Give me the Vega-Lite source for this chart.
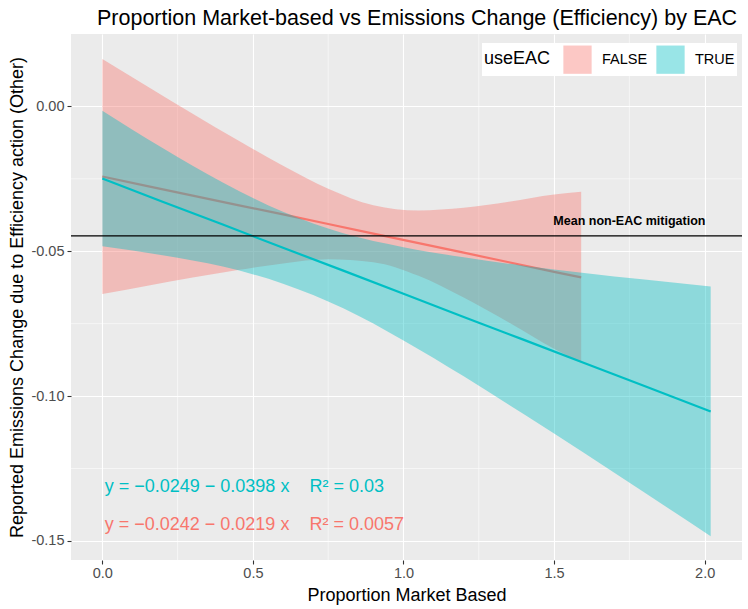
{
  "$schema": "https://vega.github.io/schema/vega-lite/v6.json",
  "width": 671,
  "height": 526,
  "autosize": "none",
  "padding": {"left": 71, "top": 34, "right": 6, "bottom": 49},
  "background": "white",
  "config": {
    "view": {"fill": "#EBEBEB", "stroke": null},
    "font": "Liberation Sans",
    "axis": {
      "domain": false,
      "grid": true,
      "gridColor": "white",
      "gridWidth": 1.1,
      "tickColor": "#333333",
      "tickSize": 4,
      "tickWidth": 1.1,
      "labelColor": "#4D4D4D",
      "labelFontSize": 14.5,
      "labelFont": "Liberation Sans",
      "titleFont": "Liberation Sans",
      "titleFontSize": 18,
      "titleFontWeight": "normal",
      "titleColor": "black"
    }
  },
  "title": {
    "text": "Proportion Market-based vs Emissions Change (Efficiency) by EAC",
    "anchor": "start",
    "frame": "group",
    "dx": 26,
    "fontSize": 21.5,
    "fontWeight": "normal",
    "color": "black",
    "font": "Liberation Sans",
    "offset": 4
  },
  "datasets": {
    "bands": [
      {"useEAC": "FALSE", "x": 0, "fit": -0.0242, "lo": -0.0648, "hi": 0.0164},
      {"useEAC": "FALSE", "x": 0.15, "fit": -0.0275, "lo": -0.0619, "hi": 0.0069},
      {"useEAC": "FALSE", "x": 0.3, "fit": -0.0308, "lo": -0.0591, "hi": -0.0025},
      {"useEAC": "FALSE", "x": 0.45, "fit": -0.0341, "lo": -0.0565, "hi": -0.0117},
      {"useEAC": "FALSE", "x": 0.6, "fit": -0.0373, "lo": -0.0542, "hi": -0.0205},
      {"useEAC": "FALSE", "x": 0.75, "fit": -0.0406, "lo": -0.0528, "hi": -0.0284},
      {"useEAC": "FALSE", "x": 0.9, "fit": -0.0439, "lo": -0.0538, "hi": -0.0341},
      {"useEAC": "FALSE", "x": 1.05, "fit": -0.0472, "lo": -0.0585, "hi": -0.0359},
      {"useEAC": "FALSE", "x": 1.2, "fit": -0.0505, "lo": -0.0660, "hi": -0.0350},
      {"useEAC": "FALSE", "x": 1.35, "fit": -0.0538, "lo": -0.0746, "hi": -0.0329},
      {"useEAC": "FALSE", "x": 1.5, "fit": -0.0571, "lo": -0.0837, "hi": -0.0304},
      {"useEAC": "FALSE", "x": 1.59, "fit": -0.0590, "lo": -0.0885, "hi": -0.0295},
      {"useEAC": "TRUE", "x": 0, "fit": -0.0249, "lo": -0.0483, "hi": -0.0015},
      {"useEAC": "TRUE", "x": 0.2, "fit": -0.0329, "lo": -0.0514, "hi": -0.0144},
      {"useEAC": "TRUE", "x": 0.4, "fit": -0.0408, "lo": -0.0553, "hi": -0.0263},
      {"useEAC": "TRUE", "x": 0.6, "fit": -0.0488, "lo": -0.0612, "hi": -0.0364},
      {"useEAC": "TRUE", "x": 0.8, "fit": -0.0567, "lo": -0.0697, "hi": -0.0438},
      {"useEAC": "TRUE", "x": 1.0, "fit": -0.0647, "lo": -0.0808, "hi": -0.0486},
      {"useEAC": "TRUE", "x": 1.2, "fit": -0.0727, "lo": -0.0932, "hi": -0.0521},
      {"useEAC": "TRUE", "x": 1.4, "fit": -0.0806, "lo": -0.1063, "hi": -0.0550},
      {"useEAC": "TRUE", "x": 1.6, "fit": -0.0886, "lo": -0.1197, "hi": -0.0575},
      {"useEAC": "TRUE", "x": 1.8, "fit": -0.0965, "lo": -0.1333, "hi": -0.0598},
      {"useEAC": "TRUE", "x": 2.02, "fit": -0.1053, "lo": -0.1484, "hi": -0.0622}
    ],
    "minorx": [{"v": 0.25}, {"v": 0.75}, {"v": 1.25}, {"v": 1.75}],
    "minory": [{"v": -0.025}, {"v": -0.075}, {"v": -0.125}],
    "annot": [{"label": "Mean non-EAC mitigation", "mean": -0.0447}]
  },
  "layer": [
    {
      "data": {"name": "minorx"},
      "mark": {"type": "rule", "color": "white", "strokeWidth": 0.55},
      "encoding": {
        "x": {"field": "v", "type": "quantitative", "scale": {"domain": [-0.104, 2.124], "nice": false, "zero": false},
          "axis": {"values": [0, 0.5, 1, 1.5, 2], "format": ".1f", "title": "Proportion Market Based", "titlePadding": 7, "labelPadding": 2}}
      }
    },
    {
      "data": {"name": "minory"},
      "mark": {"type": "rule", "color": "white", "strokeWidth": 0.55},
      "encoding": {
        "y": {"field": "v", "type": "quantitative", "scale": {"domain": [-0.1566, 0.025], "nice": false, "zero": false},
          "axis": {"values": [0, -0.05, -0.1, -0.15], "labelExpr": "replace(format(datum.value, '.2f'), '\u2212', '-')", "title": "Reported Emissions Change due to Efficiency action (Other)", "titlePadding": 4, "labelPadding": 3}}
      }
    },
    {
      "data": {"name": "bands"},
      "transform": [{"filter": "datum.useEAC == 'FALSE'"}],
      "mark": {"type": "area", "opacity": 0.4, "interpolate": "monotone"},
      "encoding": {
        "x": {"field": "x", "type": "quantitative"},
        "y": {"field": "lo", "type": "quantitative"},
        "y2": {"field": "hi"},
        "color": {"field": "useEAC", "type": "nominal", "scale": {"domain": ["FALSE", "TRUE"], "range": ["#F8766D", "#00BFC4"]},
          "legend": {
            "title": "useEAC", "orient": "none", "legendX": 411, "legendY": 9, "direction": "horizontal",
            "titleOrient": "left", "titleFontSize": 18, "titleFontWeight": "normal", "titleColor": "black", "titleFont": "Liberation Sans",
            "labelFontSize": 14.5, "labelColor": "black", "labelFont": "Liberation Sans",
            "symbolType": "square", "symbolSize": 800, "symbolOpacity": 0.4, "symbolStrokeWidth": 0,
            "fillColor": "white", "padding": 2, "labelOffset": 10, "columnPadding": 8, "titlePadding": 12
          }}
      }
    },
    {
      "data": {"name": "bands"},
      "transform": [{"filter": "datum.useEAC == 'FALSE'"}],
      "mark": {"type": "line", "strokeWidth": 2.2},
      "encoding": {
        "x": {"field": "x", "type": "quantitative"},
        "y": {"field": "fit", "type": "quantitative"},
        "color": {"field": "useEAC", "type": "nominal"}
      }
    },
    {
      "data": {"name": "bands"},
      "transform": [{"filter": "datum.useEAC == 'TRUE'"}],
      "mark": {"type": "area", "opacity": 0.4, "interpolate": "monotone"},
      "encoding": {
        "x": {"field": "x", "type": "quantitative"},
        "y": {"field": "lo", "type": "quantitative"},
        "y2": {"field": "hi"},
        "color": {"field": "useEAC", "type": "nominal"}
      }
    },
    {
      "data": {"name": "bands"},
      "transform": [{"filter": "datum.useEAC == 'TRUE'"}],
      "mark": {"type": "line", "strokeWidth": 2.2},
      "encoding": {
        "x": {"field": "x", "type": "quantitative"},
        "y": {"field": "fit", "type": "quantitative"},
        "color": {"field": "useEAC", "type": "nominal"}
      }
    },
    {
      "data": {"name": "annot"},
      "mark": {"type": "rule", "color": "black", "strokeWidth": 1.1},
      "encoding": {"y": {"field": "mean", "type": "quantitative"}}
    },
    {
      "data": {"name": "annot"},
      "mark": {"type": "text", "fontSize": 12.5, "fontWeight": "bold", "color": "black", "align": "center", "baseline": "middle", "font": "Liberation Sans"},
      "encoding": {"text": {"field": "label"}, "x": {"datum": 1.75, "type": "quantitative"}, "y": {"datum": -0.0395, "type": "quantitative"}}
    },
    {
      "data": {"values": [{"eq": "y = \u22120.0249 \u2212 0.0398 x\u00a0\u00a0\u00a0\u00a0R\u00b2 = 0.03"}]},
      "mark": {"type": "text", "fontSize": 18, "color": "#00BFC4", "align": "left", "baseline": "middle", "font": "Liberation Sans"},
      "encoding": {"text": {"field": "eq"}, "x": {"datum": 0.008, "type": "quantitative"}, "y": {"datum": -0.1314, "type": "quantitative"}}
    },
    {
      "data": {"values": [{"eq": "y = \u22120.0242 \u2212 0.0219 x\u00a0\u00a0\u00a0\u00a0R\u00b2 = 0.0057"}]},
      "mark": {"type": "text", "fontSize": 18, "color": "#F8766D", "align": "left", "baseline": "middle", "font": "Liberation Sans"},
      "encoding": {"text": {"field": "eq"}, "x": {"datum": 0.008, "type": "quantitative"}, "y": {"datum": -0.1445, "type": "quantitative"}}
    }
  ]
}
